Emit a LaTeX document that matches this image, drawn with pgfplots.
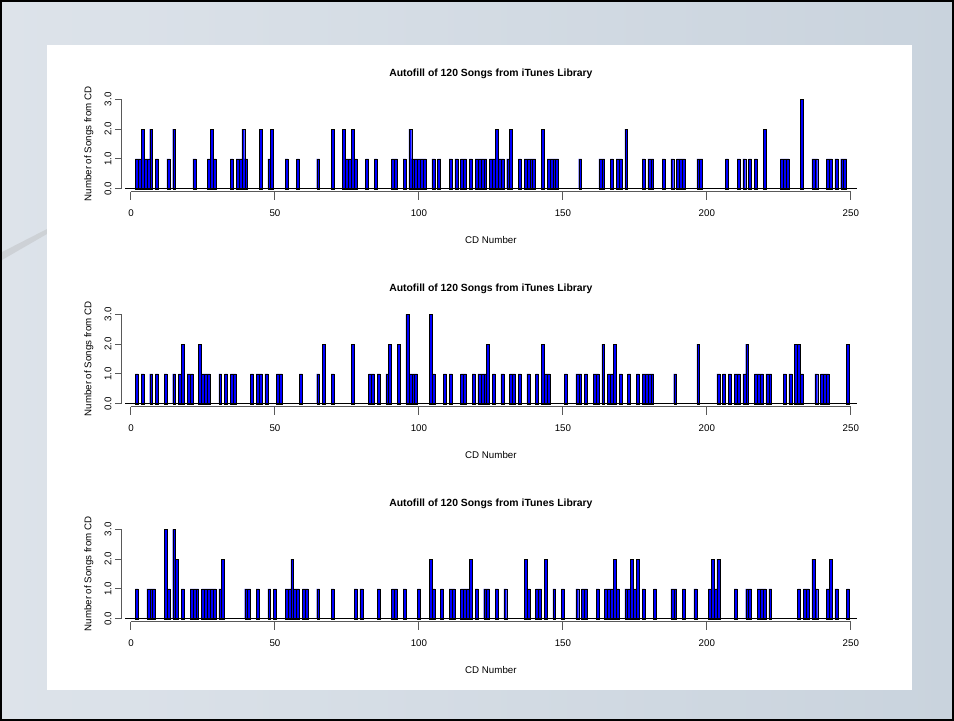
\documentclass[border=0pt]{standalone}
\usepackage{pgfplots}
\usepackage{pgfplotstable}
\pgfplotsset{compat=1.18}
\usepackage{fontspec}
\setmainfont{Liberation Sans}
\definecolor{bgL}{HTML}{DDE3EA}
\definecolor{bgR}{HTML}{C9D3DD}
\definecolor{barblue}{HTML}{0000FF}

\pgfplotstableread{
x y
2 1
3 1
4 2
5 1
6 1
7 2
9 1
13 1
15 2
22 1
27 1
28 2
29 1
35 1
37 1
38 1
39 2
40 1
45 2
48 1
49 2
54 1
58 1
65 1
70 2
74 2
75 1
76 1
77 2
78 1
82 1
85 1
91 1
92 1
95 1
97 2
98 1
99 1
100 1
101 1
102 1
105 1
107 1
111 1
113 1
115 1
116 1
118 1
120 1
121 1
122 1
123 1
125 1
126 1
127 2
128 1
129 1
131 1
132 2
135 1
137 1
138 1
139 1
140 1
143 2
145 1
146 1
147 1
148 1
156 1
163 1
164 1
167 1
169 1
170 1
172 2
178 1
180 1
181 1
185 1
188 1
190 1
191 1
192 1
197 1
198 1
207 1
211 1
213 1
215 1
217 1
220 2
226 1
227 1
228 1
233 3
237 1
238 1
242 1
243 1
245 1
247 1
248 1
}\tA

\pgfplotstableread{
x y
2 1
4 1
7 1
9 1
12 1
15 1
17 1
18 2
20 1
21 1
24 2
25 1
26 1
27 1
31 1
33 1
35 1
36 1
42 1
44 1
45 1
47 1
51 1
52 1
59 1
65 1
67 2
70 1
77 2
83 1
84 1
86 1
89 1
90 2
93 2
96 3
97 1
98 1
99 1
104 3
105 1
109 1
111 1
115 1
116 1
119 1
121 1
122 1
123 1
124 2
126 1
129 1
132 1
133 1
135 1
138 1
141 1
143 2
144 1
145 1
151 1
155 1
156 1
158 1
161 1
162 1
164 2
166 1
167 1
168 2
170 1
173 1
176 1
178 1
179 1
180 1
181 1
189 1
197 2
204 1
206 1
208 1
210 1
211 1
213 1
214 2
217 1
218 1
219 1
221 1
222 1
227 1
229 1
231 2
232 2
233 1
238 1
240 1
241 1
242 1
249 2
}\tB

\pgfplotstableread{
x y
2 1
6 1
7 1
8 1
12 3
13 1
15 3
16 2
18 1
21 1
22 1
23 1
25 1
26 1
27 1
28 1
29 1
31 1
32 2
40 1
41 1
44 1
48 1
50 1
54 1
55 1
56 2
57 1
58 1
60 1
61 1
65 1
70 1
78 1
80 1
86 1
91 1
92 1
95 1
100 1
104 2
105 1
108 1
111 1
112 1
115 1
116 1
117 1
118 2
120 1
123 1
124 1
127 1
130 1
137 2
138 1
141 1
142 1
144 2
147 1
150 1
155 1
157 1
158 1
162 1
165 1
166 1
167 1
168 2
169 1
172 1
173 1
174 2
175 1
176 2
178 1
182 1
188 1
189 1
192 1
196 1
201 1
202 2
203 1
204 2
210 1
214 1
215 1
218 1
219 1
220 1
222 1
232 1
234 1
235 1
237 2
238 1
242 1
243 2
245 1
249 1
}\tC

\newcommand{\panel}[2]{%
\begin{axis}[
  at={(125.24*0.75pt,-#1*0.75pt)}, anchor=south west,
  scale only axis, width=548.5pt, height=67.05pt,
  xmin=-2, xmax=252, ymin=0, ymax=3,
  hide axis, clip=false,
]
\addplot[ybar, bar width=1, bar shift=0pt, fill=barblue, draw=black, line width=0.3pt] table[x=x,y=y] {#2};
\draw[black, line width=0.75pt] (axis cs:-2,0) -- (axis cs:252,0);
\draw[black!65, line width=0.75pt] (axis cs:0,-0.11) -- (axis cs:250,-0.11);
\pgfplotsinvokeforeach{0,50,100,150,200,250}{%
  \draw[black!65, line width=0.75pt] (axis cs:##1,-0.11) -- (axis cs:##1,-0.38);
  \node[font=\fontsize{7.3pt}{8pt}\selectfont] at (axis cs:##1,-0.82) {##1};
}
\draw[black!65, line width=0.75pt] (axis cs:-3.47,0) -- (axis cs:-3.47,3);
\pgfplotsinvokeforeach{0,1,2,3}{%
  \draw[black!65, line width=0.75pt] (axis cs:-3.47,##1) -- (axis cs:-5.56,##1);
  \node[rotate=90, font=\fontsize{7.3pt}{8pt}\selectfont] at (axis cs:-7.99,##1) {##1.0};
}
\node[font=\fontsize{7.3pt}{8pt}\selectfont] at (axis cs:125,-1.72) {CD Number};
\node[rotate=90, font=\fontsize{7.3pt}{8pt}\selectfont] at (axis cs:-14.6,1.5) {Number of Songs from CD};
\node[font=\bfseries\fontsize{7.8pt}{8pt}\selectfont] at (axis cs:125,3.85) {Autofill of 120 Songs from iTunes Library};
\end{axis}}

\begin{document}
\begin{tikzpicture}
\shade[left color=bgL, right color=bgR] (0,0) rectangle (715.5pt,-540.75pt);
\fill[black!30, opacity=0.35] (1.5pt,-252*0.75pt) -- (47*0.75pt,-229*0.75pt) -- (47*0.75pt,-234*0.75pt) -- (1.5pt,-260*0.75pt) -- cycle;
\fill[white] (47*0.75pt,-45*0.75pt) rectangle (912*0.75pt,-690*0.75pt);
\draw[black, line width=1.5pt] (0.75pt,-0.75pt) rectangle (714.75pt,-540pt);
\panel{188.7}{\tA}
\panel{403.7}{\tB}
\panel{618.7}{\tC}
\pgfresetboundingbox
\path (0,0) rectangle (715.5pt,-540.75pt);
\end{tikzpicture}
\end{document}
